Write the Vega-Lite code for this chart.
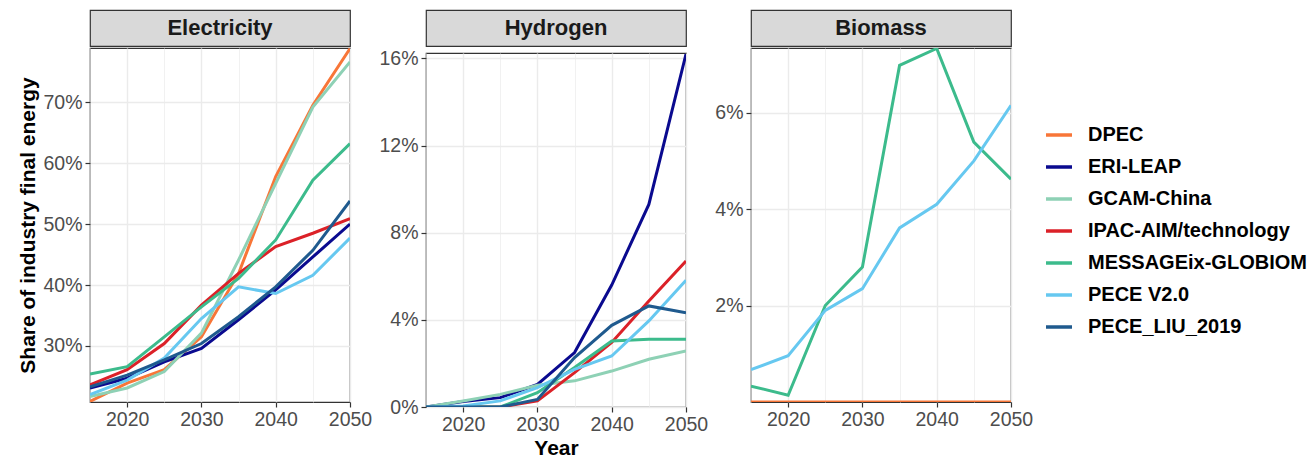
{
  "$schema": "https://vega.github.io/schema/vega-lite/v6.json",
  "padding": {"left": 17, "top": 9, "right": 0, "bottom": 0},
  "background": "white",
  "datasets": {
    "d": [
      {"model":"DPEC","variable":"Electricity","year":2015,"share":0.209},
      {"model":"DPEC","variable":"Electricity","year":2020,"share":0.239},
      {"model":"DPEC","variable":"Electricity","year":2025,"share":0.261},
      {"model":"DPEC","variable":"Electricity","year":2030,"share":0.315},
      {"model":"DPEC","variable":"Electricity","year":2035,"share":0.419},
      {"model":"DPEC","variable":"Electricity","year":2040,"share":0.578},
      {"model":"DPEC","variable":"Electricity","year":2045,"share":0.695},
      {"model":"DPEC","variable":"Electricity","year":2050,"share":0.788},
      {"model":"ERI-LEAP","variable":"Electricity","year":2015,"share":0.231},
      {"model":"ERI-LEAP","variable":"Electricity","year":2020,"share":0.247},
      {"model":"ERI-LEAP","variable":"Electricity","year":2025,"share":0.274},
      {"model":"ERI-LEAP","variable":"Electricity","year":2030,"share":0.296},
      {"model":"ERI-LEAP","variable":"Electricity","year":2035,"share":0.343},
      {"model":"ERI-LEAP","variable":"Electricity","year":2040,"share":0.392},
      {"model":"ERI-LEAP","variable":"Electricity","year":2045,"share":0.446},
      {"model":"ERI-LEAP","variable":"Electricity","year":2050,"share":0.500},
      {"model":"GCAM-China","variable":"Electricity","year":2015,"share":0.217},
      {"model":"GCAM-China","variable":"Electricity","year":2020,"share":0.231},
      {"model":"GCAM-China","variable":"Electricity","year":2025,"share":0.258},
      {"model":"GCAM-China","variable":"Electricity","year":2030,"share":0.321},
      {"model":"GCAM-China","variable":"Electricity","year":2035,"share":0.441},
      {"model":"GCAM-China","variable":"Electricity","year":2040,"share":0.567},
      {"model":"GCAM-China","variable":"Electricity","year":2045,"share":0.692},
      {"model":"GCAM-China","variable":"Electricity","year":2050,"share":0.766},
      {"model":"IPAC-AIM/technology","variable":"Electricity","year":2015,"share":0.236},
      {"model":"IPAC-AIM/technology","variable":"Electricity","year":2020,"share":0.261},
      {"model":"IPAC-AIM/technology","variable":"Electricity","year":2025,"share":0.304},
      {"model":"IPAC-AIM/technology","variable":"Electricity","year":2030,"share":0.367},
      {"model":"IPAC-AIM/technology","variable":"Electricity","year":2035,"share":0.419},
      {"model":"IPAC-AIM/technology","variable":"Electricity","year":2040,"share":0.463},
      {"model":"IPAC-AIM/technology","variable":"Electricity","year":2045,"share":0.485},
      {"model":"IPAC-AIM/technology","variable":"Electricity","year":2050,"share":0.509},
      {"model":"MESSAGEix-GLOBIOM","variable":"Electricity","year":2015,"share":0.254},
      {"model":"MESSAGEix-GLOBIOM","variable":"Electricity","year":2020,"share":0.266},
      {"model":"MESSAGEix-GLOBIOM","variable":"Electricity","year":2025,"share":0.315},
      {"model":"MESSAGEix-GLOBIOM","variable":"Electricity","year":2030,"share":0.364},
      {"model":"MESSAGEix-GLOBIOM","variable":"Electricity","year":2035,"share":0.411},
      {"model":"MESSAGEix-GLOBIOM","variable":"Electricity","year":2040,"share":0.474},
      {"model":"MESSAGEix-GLOBIOM","variable":"Electricity","year":2045,"share":0.572},
      {"model":"MESSAGEix-GLOBIOM","variable":"Electricity","year":2050,"share":0.632},
      {"model":"PECE V2.0","variable":"Electricity","year":2015,"share":0.220},
      {"model":"PECE V2.0","variable":"Electricity","year":2020,"share":0.244},
      {"model":"PECE V2.0","variable":"Electricity","year":2025,"share":0.280},
      {"model":"PECE V2.0","variable":"Electricity","year":2030,"share":0.345},
      {"model":"PECE V2.0","variable":"Electricity","year":2035,"share":0.397},
      {"model":"PECE V2.0","variable":"Electricity","year":2040,"share":0.386},
      {"model":"PECE V2.0","variable":"Electricity","year":2045,"share":0.416},
      {"model":"PECE V2.0","variable":"Electricity","year":2050,"share":0.477},
      {"model":"PECE_LIU_2019","variable":"Electricity","year":2015,"share":0.233},
      {"model":"PECE_LIU_2019","variable":"Electricity","year":2020,"share":0.252},
      {"model":"PECE_LIU_2019","variable":"Electricity","year":2025,"share":0.277},
      {"model":"PECE_LIU_2019","variable":"Electricity","year":2030,"share":0.304},
      {"model":"PECE_LIU_2019","variable":"Electricity","year":2035,"share":0.348},
      {"model":"PECE_LIU_2019","variable":"Electricity","year":2040,"share":0.397},
      {"model":"PECE_LIU_2019","variable":"Electricity","year":2045,"share":0.457},
      {"model":"PECE_LIU_2019","variable":"Electricity","year":2050,"share":0.538},
      {"model":"ERI-LEAP","variable":"Hydrogen","year":2015,"share":0.0},
      {"model":"ERI-LEAP","variable":"Hydrogen","year":2020,"share":0.0025},
      {"model":"ERI-LEAP","variable":"Hydrogen","year":2025,"share":0.0043},
      {"model":"ERI-LEAP","variable":"Hydrogen","year":2030,"share":0.0104},
      {"model":"ERI-LEAP","variable":"Hydrogen","year":2035,"share":0.025},
      {"model":"ERI-LEAP","variable":"Hydrogen","year":2040,"share":0.056},
      {"model":"ERI-LEAP","variable":"Hydrogen","year":2045,"share":0.093},
      {"model":"ERI-LEAP","variable":"Hydrogen","year":2050,"share":0.162},
      {"model":"GCAM-China","variable":"Hydrogen","year":2015,"share":0.0},
      {"model":"GCAM-China","variable":"Hydrogen","year":2020,"share":0.0028},
      {"model":"GCAM-China","variable":"Hydrogen","year":2025,"share":0.0058},
      {"model":"GCAM-China","variable":"Hydrogen","year":2030,"share":0.010},
      {"model":"GCAM-China","variable":"Hydrogen","year":2035,"share":0.012},
      {"model":"GCAM-China","variable":"Hydrogen","year":2040,"share":0.0165},
      {"model":"GCAM-China","variable":"Hydrogen","year":2045,"share":0.0219},
      {"model":"GCAM-China","variable":"Hydrogen","year":2050,"share":0.0257},
      {"model":"IPAC-AIM/technology","variable":"Hydrogen","year":2015,"share":0.0},
      {"model":"IPAC-AIM/technology","variable":"Hydrogen","year":2020,"share":0.0},
      {"model":"IPAC-AIM/technology","variable":"Hydrogen","year":2025,"share":0.0},
      {"model":"IPAC-AIM/technology","variable":"Hydrogen","year":2030,"share":0.0028},
      {"model":"IPAC-AIM/technology","variable":"Hydrogen","year":2035,"share":0.0158},
      {"model":"IPAC-AIM/technology","variable":"Hydrogen","year":2040,"share":0.0296},
      {"model":"IPAC-AIM/technology","variable":"Hydrogen","year":2045,"share":0.0487},
      {"model":"IPAC-AIM/technology","variable":"Hydrogen","year":2050,"share":0.067},
      {"model":"MESSAGEix-GLOBIOM","variable":"Hydrogen","year":2015,"share":0.0},
      {"model":"MESSAGEix-GLOBIOM","variable":"Hydrogen","year":2020,"share":0.0},
      {"model":"MESSAGEix-GLOBIOM","variable":"Hydrogen","year":2025,"share":0.0},
      {"model":"MESSAGEix-GLOBIOM","variable":"Hydrogen","year":2030,"share":0.0066},
      {"model":"MESSAGEix-GLOBIOM","variable":"Hydrogen","year":2035,"share":0.0181},
      {"model":"MESSAGEix-GLOBIOM","variable":"Hydrogen","year":2040,"share":0.0303},
      {"model":"MESSAGEix-GLOBIOM","variable":"Hydrogen","year":2045,"share":0.0311},
      {"model":"MESSAGEix-GLOBIOM","variable":"Hydrogen","year":2050,"share":0.0311},
      {"model":"PECE V2.0","variable":"Hydrogen","year":2015,"share":0.0},
      {"model":"PECE V2.0","variable":"Hydrogen","year":2020,"share":0.0005},
      {"model":"PECE V2.0","variable":"Hydrogen","year":2025,"share":0.0028},
      {"model":"PECE V2.0","variable":"Hydrogen","year":2030,"share":0.0089},
      {"model":"PECE V2.0","variable":"Hydrogen","year":2035,"share":0.0173},
      {"model":"PECE V2.0","variable":"Hydrogen","year":2040,"share":0.0234},
      {"model":"PECE V2.0","variable":"Hydrogen","year":2045,"share":0.0395},
      {"model":"PECE V2.0","variable":"Hydrogen","year":2050,"share":0.0582},
      {"model":"PECE_LIU_2019","variable":"Hydrogen","year":2015,"share":0.0},
      {"model":"PECE_LIU_2019","variable":"Hydrogen","year":2020,"share":0.0},
      {"model":"PECE_LIU_2019","variable":"Hydrogen","year":2025,"share":0.0},
      {"model":"PECE_LIU_2019","variable":"Hydrogen","year":2030,"share":0.0035},
      {"model":"PECE_LIU_2019","variable":"Hydrogen","year":2035,"share":0.0227},
      {"model":"PECE_LIU_2019","variable":"Hydrogen","year":2040,"share":0.0375},
      {"model":"PECE_LIU_2019","variable":"Hydrogen","year":2045,"share":0.0464},
      {"model":"PECE_LIU_2019","variable":"Hydrogen","year":2050,"share":0.0433},
      {"model":"DPEC","variable":"Biomass","year":2015,"share":0.0},
      {"model":"DPEC","variable":"Biomass","year":2020,"share":0.0},
      {"model":"DPEC","variable":"Biomass","year":2025,"share":0.0},
      {"model":"DPEC","variable":"Biomass","year":2030,"share":0.0},
      {"model":"DPEC","variable":"Biomass","year":2035,"share":0.0},
      {"model":"DPEC","variable":"Biomass","year":2040,"share":0.0},
      {"model":"DPEC","variable":"Biomass","year":2045,"share":0.0},
      {"model":"DPEC","variable":"Biomass","year":2050,"share":0.0},
      {"model":"MESSAGEix-GLOBIOM","variable":"Biomass","year":2015,"share":0.0033},
      {"model":"MESSAGEix-GLOBIOM","variable":"Biomass","year":2020,"share":0.0014},
      {"model":"MESSAGEix-GLOBIOM","variable":"Biomass","year":2025,"share":0.0200},
      {"model":"MESSAGEix-GLOBIOM","variable":"Biomass","year":2030,"share":0.0280},
      {"model":"MESSAGEix-GLOBIOM","variable":"Biomass","year":2035,"share":0.0698},
      {"model":"MESSAGEix-GLOBIOM","variable":"Biomass","year":2040,"share":0.0733},
      {"model":"MESSAGEix-GLOBIOM","variable":"Biomass","year":2045,"share":0.0539},
      {"model":"MESSAGEix-GLOBIOM","variable":"Biomass","year":2050,"share":0.0462},
      {"model":"PECE V2.0","variable":"Biomass","year":2015,"share":0.0067},
      {"model":"PECE V2.0","variable":"Biomass","year":2020,"share":0.0096},
      {"model":"PECE V2.0","variable":"Biomass","year":2025,"share":0.0190},
      {"model":"PECE V2.0","variable":"Biomass","year":2030,"share":0.0235},
      {"model":"PECE V2.0","variable":"Biomass","year":2035,"share":0.0361},
      {"model":"PECE V2.0","variable":"Biomass","year":2040,"share":0.0410},
      {"model":"PECE V2.0","variable":"Biomass","year":2045,"share":0.0500},
      {"model":"PECE V2.0","variable":"Biomass","year":2050,"share":0.0615}
    ]
  },
  "hconcat": [
    {
      "spacing": 0,
      "vconcat": [
        {
          "width": 260, "height": 36,
          "view": {"fill": "#d9d9d9", "stroke": "#333333", "strokeWidth": 1.2},
          "data": {"values": [{"label": "Electricity"}]},
          "mark": {"type": "text", "fontWeight": "bold", "fontSize": 22, "color": "#1a1a1a", "baseline": "middle", "align": "center"},
          "encoding": {"text": {"field": "label"}}
        },
        {
          "width": 260, "height": 354,
          "data": {"name": "d"},
          "transform": [{"filter": "datum.variable == 'Electricity'"}],
          "mark": {"type": "line", "strokeWidth": 3, "clip": true},
          "encoding": {
            "x": {"field": "year", "type": "quantitative", "scale": {"domain": [2015, 2050], "nice": false, "zero": false},
                  "axis": {"title": null, "values": [2015, 2020, 2025, 2030, 2035, 2040, 2045, 2050], "format": "d",
                           "labelExpr": "datum.value % 10 == 0 ? datum.label : ''",
                           "tickColor": {"condition": {"test": "datum.value % 10 != 0", "value": "transparent"}, "value": "#333333"},
                           "gridWidth": {"condition": {"test": "datum.value % 10 != 0", "value": 0.7}, "value": 1.4}}},
            "y": {"field": "share", "type": "quantitative", "scale": {"domain": [0.208, 0.789], "nice": false, "zero": false},
                  "axis": {"title": "Share of industry final energy", "values": [0.3, 0.4, 0.5, 0.6, 0.7], "format": ".0%"}},
            "color": {"field": "model", "type": "nominal",
                      "scale": {"domain": ["DPEC", "ERI-LEAP", "GCAM-China", "IPAC-AIM/technology", "MESSAGEix-GLOBIOM", "PECE V2.0", "PECE_LIU_2019"],
                                "range": ["#f87638", "#0a0a8f", "#8ed1b5", "#db2128", "#3cbb8c", "#66c8f0", "#1f5a8e"]},
                      "legend": {"title": null}}
          }
        }
      ]
    },
    {
      "spacing": 0,
      "vconcat": [
        {
          "width": 260, "height": 36,
          "view": {"fill": "#d9d9d9", "stroke": "#333333", "strokeWidth": 1.2},
          "data": {"values": [{"label": "Hydrogen"}]},
          "mark": {"type": "text", "fontWeight": "bold", "fontSize": 22, "color": "#1a1a1a", "baseline": "middle", "align": "center"},
          "encoding": {"text": {"field": "label"}}
        },
        {
          "width": 260, "height": 354,
          "data": {"name": "d"},
          "transform": [{"filter": "datum.variable == 'Hydrogen'"}],
          "mark": {"type": "line", "strokeWidth": 3, "clip": true},
          "encoding": {
            "x": {"field": "year", "type": "quantitative", "scale": {"domain": [2015, 2050], "nice": false, "zero": false},
                  "axis": {"title": "Year", "values": [2015, 2020, 2025, 2030, 2035, 2040, 2045, 2050], "format": "d",
                           "labelExpr": "datum.value % 10 == 0 ? datum.label : ''",
                           "tickColor": {"condition": {"test": "datum.value % 10 != 0", "value": "transparent"}, "value": "#333333"},
                           "gridWidth": {"condition": {"test": "datum.value % 10 != 0", "value": 0.7}, "value": 1.4}}},
            "y": {"field": "share", "type": "quantitative", "scale": {"domain": [0, 0.1625], "nice": false, "zero": false},
                  "axis": {"title": null, "values": [0, 0.04, 0.08, 0.12, 0.16], "format": ".0%"}},
            "color": {"field": "model", "type": "nominal",
                      "scale": {"domain": ["DPEC", "ERI-LEAP", "GCAM-China", "IPAC-AIM/technology", "MESSAGEix-GLOBIOM", "PECE V2.0", "PECE_LIU_2019"],
                                "range": ["#f87638", "#0a0a8f", "#8ed1b5", "#db2128", "#3cbb8c", "#66c8f0", "#1f5a8e"]},
                      "legend": {"title": null}}
          }
        }
      ]
    },
    {
      "spacing": 0,
      "vconcat": [
        {
          "width": 260, "height": 36,
          "view": {"fill": "#d9d9d9", "stroke": "#333333", "strokeWidth": 1.2},
          "data": {"values": [{"label": "Biomass"}]},
          "mark": {"type": "text", "fontWeight": "bold", "fontSize": 22, "color": "#1a1a1a", "baseline": "middle", "align": "center"},
          "encoding": {"text": {"field": "label"}}
        },
        {
          "width": 260, "height": 354,
          "data": {"name": "d"},
          "transform": [{"filter": "datum.variable == 'Biomass'"}],
          "mark": {"type": "line", "strokeWidth": 3, "clip": true},
          "encoding": {
            "x": {"field": "year", "type": "quantitative", "scale": {"domain": [2015, 2050], "nice": false, "zero": false},
                  "axis": {"title": null, "values": [2015, 2020, 2025, 2030, 2035, 2040, 2045, 2050], "format": "d",
                           "labelExpr": "datum.value % 10 == 0 ? datum.label : ''",
                           "tickColor": {"condition": {"test": "datum.value % 10 != 0", "value": "transparent"}, "value": "#333333"},
                           "gridWidth": {"condition": {"test": "datum.value % 10 != 0", "value": 0.7}, "value": 1.4}}},
            "y": {"field": "share", "type": "quantitative", "scale": {"domain": [0, 0.0734], "nice": false, "zero": false},
                  "axis": {"title": null, "values": [0.02, 0.04, 0.06], "format": ".0%"}},
            "color": {"field": "model", "type": "nominal",
                      "scale": {"domain": ["DPEC", "ERI-LEAP", "GCAM-China", "IPAC-AIM/technology", "MESSAGEix-GLOBIOM", "PECE V2.0", "PECE_LIU_2019"],
                                "range": ["#f87638", "#0a0a8f", "#8ed1b5", "#db2128", "#3cbb8c", "#66c8f0", "#1f5a8e"]},
                      "legend": {"title": null}}
          }
        }
      ]
    }
  ],
  "spacing": 5,
  "config": {
    "font": "Liberation Sans",
    "view": {"stroke": "#333333", "strokeWidth": 1.2},
    "axis": {
      "domain": false,
      "labelFont": "Liberation Sans", "labelFontSize": 19.5, "labelColor": "#4d4d4d",
      "labelPadding": 3, "labelFlush": false, "labelOverlap": false,
      "tickSize": 5, "tickWidth": 1.2, "tickColor": "#333333",
      "gridColor": "#ebebeb", "gridWidth": 1.4,
      "titleFont": "Liberation Sans", "titleFontSize": 21, "titleFontWeight": "bold", "titleColor": "#000000", "titlePadding": 4
    },
    "legend": {
      "orient": "none", "legendX": 954, "legendY": 110,
      "symbolType": "stroke", "symbolSize": 676, "symbolStrokeWidth": 3.5,
      "labelFont": "Liberation Sans", "labelFontSize": 20, "labelFontWeight": "bold", "labelColor": "#000000",
      "labelLimit": 0,
      "labelOffset": 14, "rowPadding": 7, "padding": 0
    }
  }
}
